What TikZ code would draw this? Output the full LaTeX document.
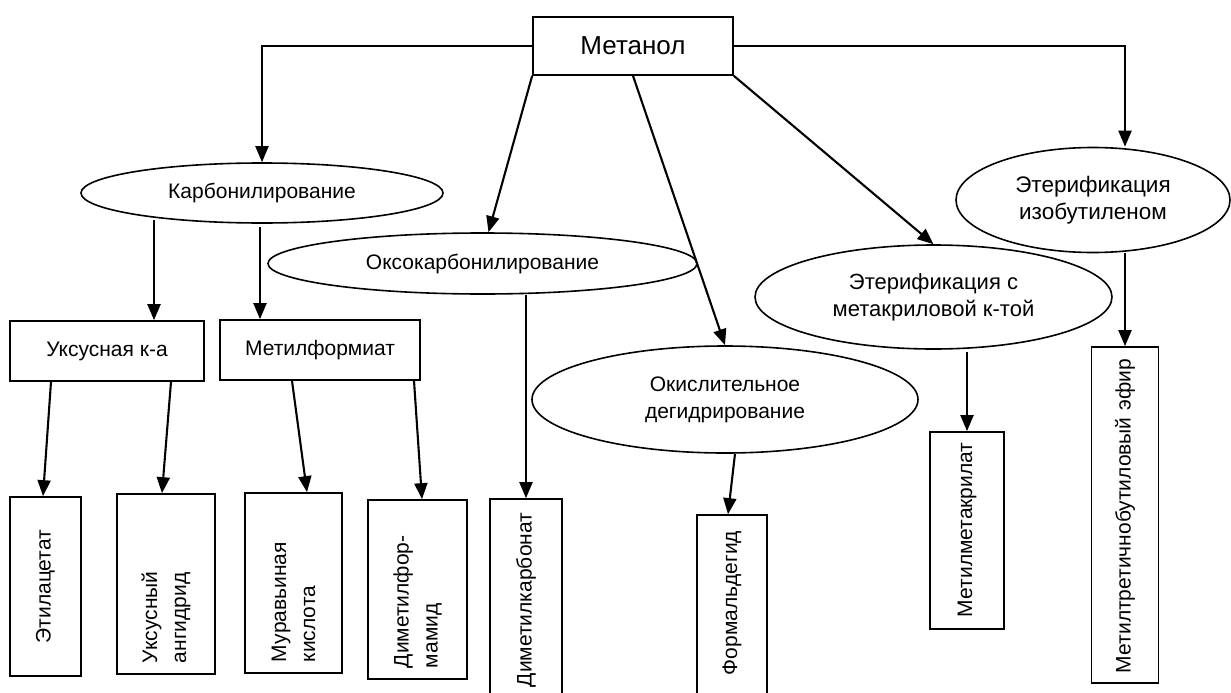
\documentclass[tikz,border=0pt]{standalone}
\usepackage{fontspec}
\setmainfont{Liberation Sans}
\usetikzlibrary{shapes.geometric,arrows.meta,calc}
\begin{document}
\begin{tikzpicture}[x=1pt,y=-1pt,
  every node/.style={font=\fontsize{21}{27}\selectfont, line width=1.7pt},
  rbox/.style={draw, rectangle, inner sep=0pt},
  ell/.style={draw, ellipse, inner sep=0pt, align=center, line width=1.6pt},
  pbox/.style={draw, rectangle, rotate=90, inner ysep=0pt},
  arr/.style={line width=2.1pt, -{Triangle[length=16pt,width=13pt]}},
]
\useasboundingbox (0,0) rectangle (1231,693);
\fill[white] (0,0) rectangle (1231,693);
\clip (0,0) rectangle (1231,693);

\node[rbox, minimum width=200pt, minimum height=58pt, font=\fontsize{26}{30}\selectfont] (met) at (633,46) {Метанол};

\node[ell, minimum width=362pt, minimum height=60pt] (carb) at (262,193) {Карбонилирование};
\node[ell, minimum width=429pt, minimum height=61pt] (oxo) at (482.5,263.5) {Оксокарбонилирование};
\node[ell, minimum width=386pt, minimum height=107pt] (okis) at (725,399.5) {Окислительное\\дегидрирование};
\node[ell, minimum width=357pt, minimum height=104pt, font=\fontsize{22}{27}\selectfont] (etmk) at (933.5,297) {Этерификация с\\метакриловой к-той};
\node[ell, minimum width=274pt, minimum height=105pt, font=\fontsize{22.5}{27}\selectfont] (etiz) at (1093,200) {Этерификация\\изобутиленом};

\node[rbox, minimum width=194pt, minimum height=60pt] (uks) at (107,351) {Уксусная к-а};
\node[rbox, minimum width=200pt, minimum height=60pt] (mf) at (320,350) {Метилформиат};

\node[pbox, minimum width=179pt, minimum height=71pt, inner xsep=10pt, text width=159pt, align=center] (eth) at (45.5,586.5) {Этилацетат};
\node[pbox, minimum width=180pt, minimum height=98pt, inner xsep=11pt, text width=158pt, align=left, font=\fontsize{21}{29}\selectfont] (anh) at (166,584) {Уксусный\\ангидрид};
\node[pbox, minimum width=180pt, minimum height=97pt, inner xsep=11pt, text width=158pt, align=left, font=\fontsize{21}{29}\selectfont] (mur) at (293.5,583) {Муравьиная\\кислота};
\node[pbox, minimum width=179pt, minimum height=99pt, inner xsep=11pt, text width=157pt, align=left, font=\fontsize{21}{29}\selectfont] (dmf) at (417.5,589.5) {Диметилфор-\\мамид};
\node[pbox, minimum width=206pt, minimum height=72pt, inner xsep=18pt, text width=170pt, align=left] (dmk) at (526,602) {Диметилкарбонат};
\node[pbox, minimum width=190pt, minimum height=70pt, inner xsep=30pt, text width=130pt, align=left] (form) at (732,610) {Формальдегид};
\node[pbox, minimum width=197pt, minimum height=74pt, inner xsep=12pt, text width=173pt, align=left] (mma) at (967,530.5) {Метилметакрилат};
\node[pbox, minimum width=336pt, minimum height=67pt, inner xsep=10pt, text width=316pt, align=left] (mtbe) at (1125,515) {Метилтретичнобутиловый эфир};

\draw[arr] (met.west) -| (carb.north);
\draw[arr] (met.east) -| (etiz.north -| mtbe.east);
\draw[arr] (met.south west) -- ($(oxo.north)+(6,0)$);
\draw[arr] (met.south) -- (okis.north);
\draw[arr] (met.south east) -- (etmk.north);
\draw[arr] ($(carb.center)+(-108,27)$) -- ($(uks.north)+(47,0)$);
\draw[arr] ($(carb.south)+(-2,3)$) -- ($(mf.north)+(-60,0)$);
\draw[arr] ($(uks.south)+(-56,0)$) -- ($(eth.east)+(-2.5,0)$);
\draw[arr] ($(uks.south)+(64,0)$) -- ($(anh.east)+(-4,0)$);
\draw[arr] ($(mf.south)+(-28,0)$) -- ($(mur.east)+(13.5,0)$);
\draw[arr] ($(mf.south)+(94,0)$) -- ($(dmf.east)+(4.5,0)$);
\draw[arr] (oxo.south -| dmk.east) -- (dmk.east);
\draw[arr] ($(okis.south)+(10,0)$) -- ($(form.east)+(-4,0)$);
\draw[arr] ($(etmk.south -| mma.east)+(0,2)$) -- (mma.east);
\draw[arr] (etiz.south -| mtbe.east) -- (mtbe.east);
\end{tikzpicture}
\end{document}
